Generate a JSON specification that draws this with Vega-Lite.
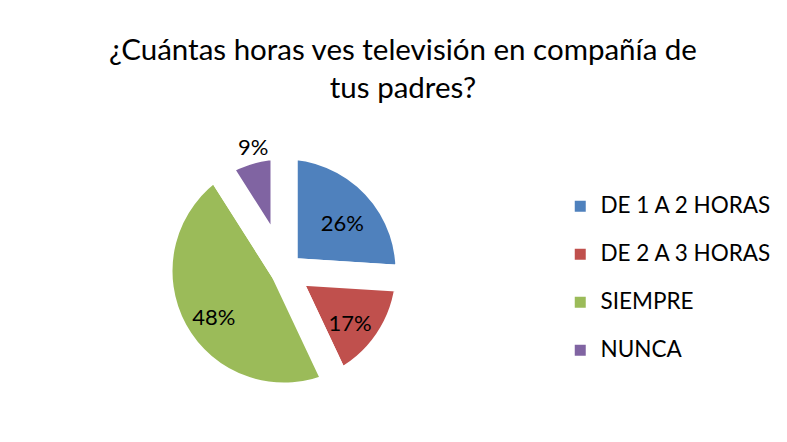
{
  "$schema": "https://vega.github.io/schema/vega-lite/v6.json",
  "width": 568,
  "height": 320,
  "padding": {"left": 0, "top": 35, "right": 0, "bottom": 0},
  "background": "white",
  "config": {"view": {"stroke": null}, "font": "Lato"},
  "title": {
    "text": ["¿Cuántas horas ves televisión en compañía de", "tus padres?"],
    "fontSize": 29.5,
    "fontWeight": "normal",
    "font": "Lato",
    "color": "#000000",
    "lineHeight": 38,
    "anchor": "middle",
    "dx": 119,
    "offset": 7
  },
  "data": {
    "values": [
      {"respuesta": "DE 1 A 2 HORAS", "porcentaje": 0.26, "orden": 1},
      {"respuesta": "DE 2 A 3 HORAS", "porcentaje": 0.17, "orden": 2},
      {"respuesta": "SIEMPRE", "porcentaje": 0.48, "orden": 3},
      {"respuesta": "NUNCA", "porcentaje": 0.09, "orden": 4}
    ]
  },
  "encoding": {
    "theta": {"field": "porcentaje", "type": "quantitative", "stack": true},
    "order": {"field": "orden", "type": "quantitative"}
  },
  "layer": [
    {
      "mark": {"type": "arc", "outerRadius": 125, "stroke": "white", "strokeWidth": 27, "strokeJoin": "round"},
      "encoding": {
        "color": {
          "field": "respuesta",
          "type": "nominal",
          "scale": {
            "domain": ["DE 1 A 2 HORAS", "DE 2 A 3 HORAS", "SIEMPRE", "NUNCA"],
            "range": ["#4F81BD", "#C0504D", "#9BBB59", "#8064A2"]
          },
          "legend": {
            "title": null,
            "orient": "none",
            "legendX": 569,
            "legendY": 84,
            "symbolType": "square",
            "symbolSize": 121,
            "symbolStrokeWidth": 0,
            "labelFont": "Lato",
            "labelFontSize": 22.5,
            "labelColor": "#000000",
            "labelOffset": 9,
            "labelLimit": 400,
            "rowPadding": 25
          }
        }
      }
    },
    {
      "mark": {"type": "text", "font": "Lato", "fontSize": 22, "color": "#000000", "radius": 80, "dy": 8},
      "encoding": {
        "text": {"condition": {"test": "datum.respuesta === 'NUNCA'", "value": ""}, "field": "porcentaje", "type": "quantitative", "format": ".0%"}
      }
    },
    {
      "mark": {"type": "text", "font": "Lato", "fontSize": 22, "color": "#000000", "radius": 128, "dx": 5},
      "encoding": {
        "text": {"condition": {"test": "datum.respuesta !== 'NUNCA'", "value": ""}, "field": "porcentaje", "type": "quantitative", "format": ".0%"}
      }
    }
  ]
}
